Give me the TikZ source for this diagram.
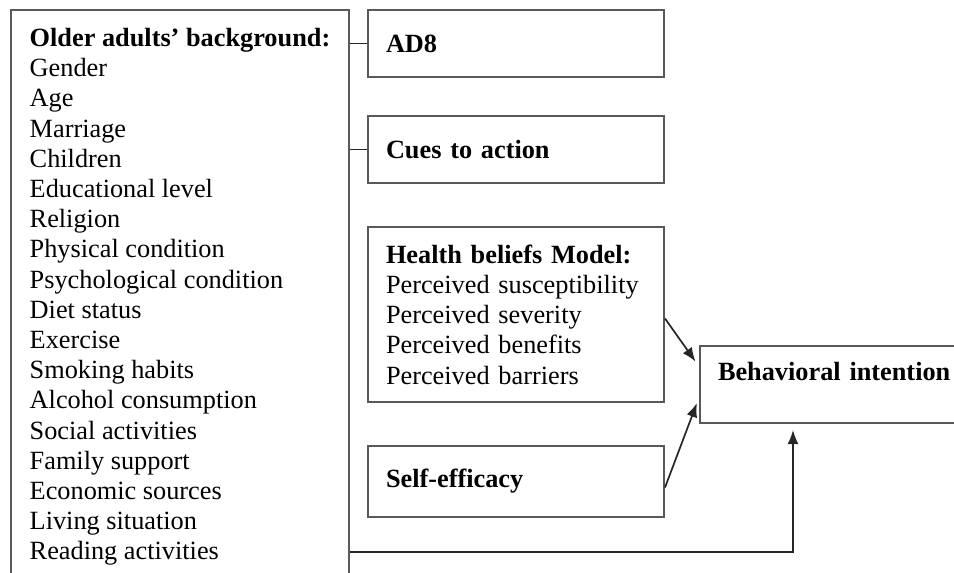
\documentclass[tikz,border=0pt]{standalone}
\usepackage{fontspec}
\setmainfont{Liberation Serif}
\usetikzlibrary{arrows.meta, positioning}

\begin{document}
\begin{tikzpicture}[
  x=1pt, y=1pt,
  node distance=37pt,
  box/.style={draw=black!65, line width=2pt, rectangle, align=left, inner xsep=18pt, font=\fontsize{26.3}{30.2}\selectfont},
  side/.style={box, text width=260pt, minimum height=67pt},
  link/.style={line width=1.7pt, draw=black!85},
  arrow/.style={link, -{Latex[length=14pt,width=11pt]}, shorten >=6pt}
]
  \useasboundingbox (0,0) rectangle (954,-573);
  \clip (0,0) rectangle (954,-573);

  \node (bg) [box, anchor=north west, inner xsep=0pt, minimum width=338pt, minimum height=574pt] at (10,-9)
    {\textbf{Older adults’ background:}\\ Gender\\ Age\\ Marriage\\ Children\\ Educational level\\ Religion\\
     Physical condition\\ Psychological condition\\ Diet status\\ Exercise\\ Smoking habits\\
     Alcohol consumption\\ Social activities\\ Family support\\ Economic sources\\ Living situation\\ Reading activities};

  \node (ad8) [side, anchor=north west] at (367,-9) {\textbf{AD8}};
  \node (cues) [side, below=of ad8] {\textbf{Cues to action}};
  \node (hbm) [side, below=42pt of cues, minimum height=175pt] {\textbf{Health beliefs Model:}\\ Perceived susceptibility\\ Perceived severity\\ Perceived benefits\\ Perceived barriers};
  \node (se) [side, below=42pt of hbm, minimum height=71pt] {\textbf{Self-efficacy}};
  \node (bi) [box, anchor=north west, text width=300pt, inner ysep=0pt, text height=34pt, text depth=43pt] at (699,-345) {\textbf{Behavioral intention}};

  \draw [link] (ad8.west -| bg.east) -- (ad8.west);
  \draw [link] (cues.west -| bg.east) -- (cues.west);
  \draw [arrow] ([yshift=-4pt]hbm.east) -- ([yshift=18pt]bi.west);
  \draw [arrow] ([yshift=-6pt]se.east) -- ([yshift=-13pt]bi.west);
  \coordinate (turn) at (793,-552);
  \draw [arrow] (bg.east |- turn) -- (turn) -- (turn |- bi.south);
\end{tikzpicture}
\end{document}
